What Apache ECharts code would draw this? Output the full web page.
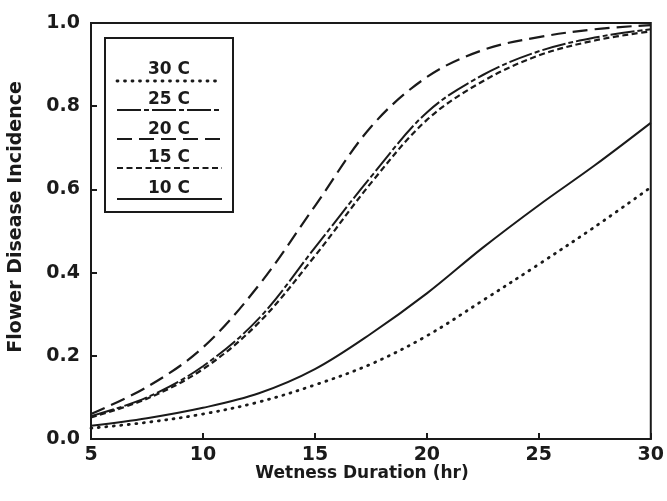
<!DOCTYPE html>
<html>
<head>
<meta charset="utf-8">
<script src="https://cdn.jsdelivr.net/npm/echarts@6/dist/echarts.min.js"></script>
<style>html,body{margin:0;padding:0;background:#fff}#c{width:667px;height:501px}</style>
</head>
<body>
<div id="c"></div>
<script>
const hours = [5, 7.5, 10, 12.5, 15, 17.5, 20, 22.5, 25, 27.5, 30];
const inc30 = [0.026, 0.04, 0.06, 0.089, 0.13, 0.18, 0.248, 0.333, 0.42, 0.51, 0.605];
const inc25 = [0.055, 0.1, 0.175, 0.29, 0.46, 0.63, 0.785, 0.875, 0.932, 0.965, 0.985];
const inc20 = [0.06, 0.125, 0.22, 0.37, 0.56, 0.75, 0.87, 0.935, 0.966, 0.985, 0.995];
const inc15 = [0.052, 0.097, 0.168, 0.28, 0.44, 0.615, 0.767, 0.86, 0.922, 0.958, 0.98];
const inc10 = [0.032, 0.05, 0.075, 0.11, 0.168, 0.253, 0.35, 0.46, 0.562, 0.658, 0.76];
const seriesNames = ['30 C', '25 C', '20 C', '15 C', '10 C'];
const xTitle = 'Wetness Duration (hr)';
const yTitle = 'Flower Disease Incidence';

const INK = '#1a1a1a';
const FONT = 'DejaVu Sans';
const styles = {
  '30 C': {type: [1, 6.5], cap: 'round', width: 2.8},
  '25 C': {type: [24, 3, 5, 3], cap: 'butt', width: 2},
  '20 C': {type: [15, 7], cap: 'butt', width: 2.2},
  '15 C': {type: [6, 3.5], cap: 'butt', width: 2.2},
  '10 C': {type: 'solid', cap: 'butt', width: 2}
};
const valuesByName = {'30 C': inc30, '25 C': inc25, '20 C': inc20, '15 C': inc15, '10 C': inc10};

const series = seriesNames.map(n => ({
  name: n,
  type: 'line',
  smooth: 0.35,
  symbol: 'none',
  data: hours.map((h, i) => [h, valuesByName[n][i]]),
  lineStyle: {color: INK, width: styles[n].width, type: styles[n].type, cap: styles[n].cap},
  z: 3
}));

const legendGraphic = [];
legendGraphic.push({type: 'rect', shape: {x: 105, y: 38, width: 128, height: 174},
  style: {fill: '#fff', stroke: INK, lineWidth: 2}, z: 10});
const textY = [70, 100, 130, 158, 189];
const lineY = [81, 110, 139, 168, 199];
seriesNames.forEach((n, i) => {
  legendGraphic.push({type: 'text', x: 169, y: textY[i], z: 11,
    style: {text: n, fill: INK, font: 'bold 17px ' + FONT, textAlign: 'center', textVerticalAlign: 'middle'}});
  legendGraphic.push({type: 'line', shape: {x1: 117, y1: lineY[i], x2: 222, y2: lineY[i]}, z: 11,
    style: {stroke: INK, lineWidth: styles[n].width, lineDash: styles[n].type === 'solid' ? null : styles[n].type, lineCap: styles[n].cap}});
});

const chart = echarts.init(document.getElementById('c'), null, {renderer: 'canvas'});
chart.setOption({
  animation: false,
  backgroundColor: '#fff',
  grid: {left: 91, right: 10, top: 23, bottom: 62, show: true, borderColor: INK, borderWidth: 2, backgroundColor: 'transparent'},
  xAxis: {
    type: 'value', min: 5, max: 30, interval: 5,
    axisLine: {show: true, lineStyle: {color: INK, width: 2}},
    axisTick: {show: true, inside: true, length: 6, lineStyle: {color: INK, width: 2}},
    splitLine: {show: false},
    axisLabel: {color: INK, fontFamily: FONT, fontSize: 19, fontWeight: 'bold', margin: 7}
  },
  yAxis: {
    type: 'value', min: 0, max: 1, interval: 0.2,
    axisLine: {show: true, lineStyle: {color: INK, width: 2}},
    axisTick: {show: true, inside: true, length: 6, lineStyle: {color: INK, width: 2}},
    splitLine: {show: false},
    axisLabel: {color: INK, fontFamily: FONT, fontSize: 19, fontWeight: 'bold', margin: 11,
      formatter: v => v.toFixed(1)}
  },
  graphic: legendGraphic.concat([
    {type: 'text', x: 362, y: 474, style: {text: xTitle, fill: INK, font: 'bold 17px ' + FONT, textAlign: 'center', textVerticalAlign: 'middle'}},
    {type: 'text', x: 16, y: 217, rotation: Math.PI / 2, style: {text: yTitle, fill: INK, font: 'bold 19px ' + FONT, textAlign: 'center', textVerticalAlign: 'middle'}}
  ]),
  series: series
});
</script>
</body>
</html>
